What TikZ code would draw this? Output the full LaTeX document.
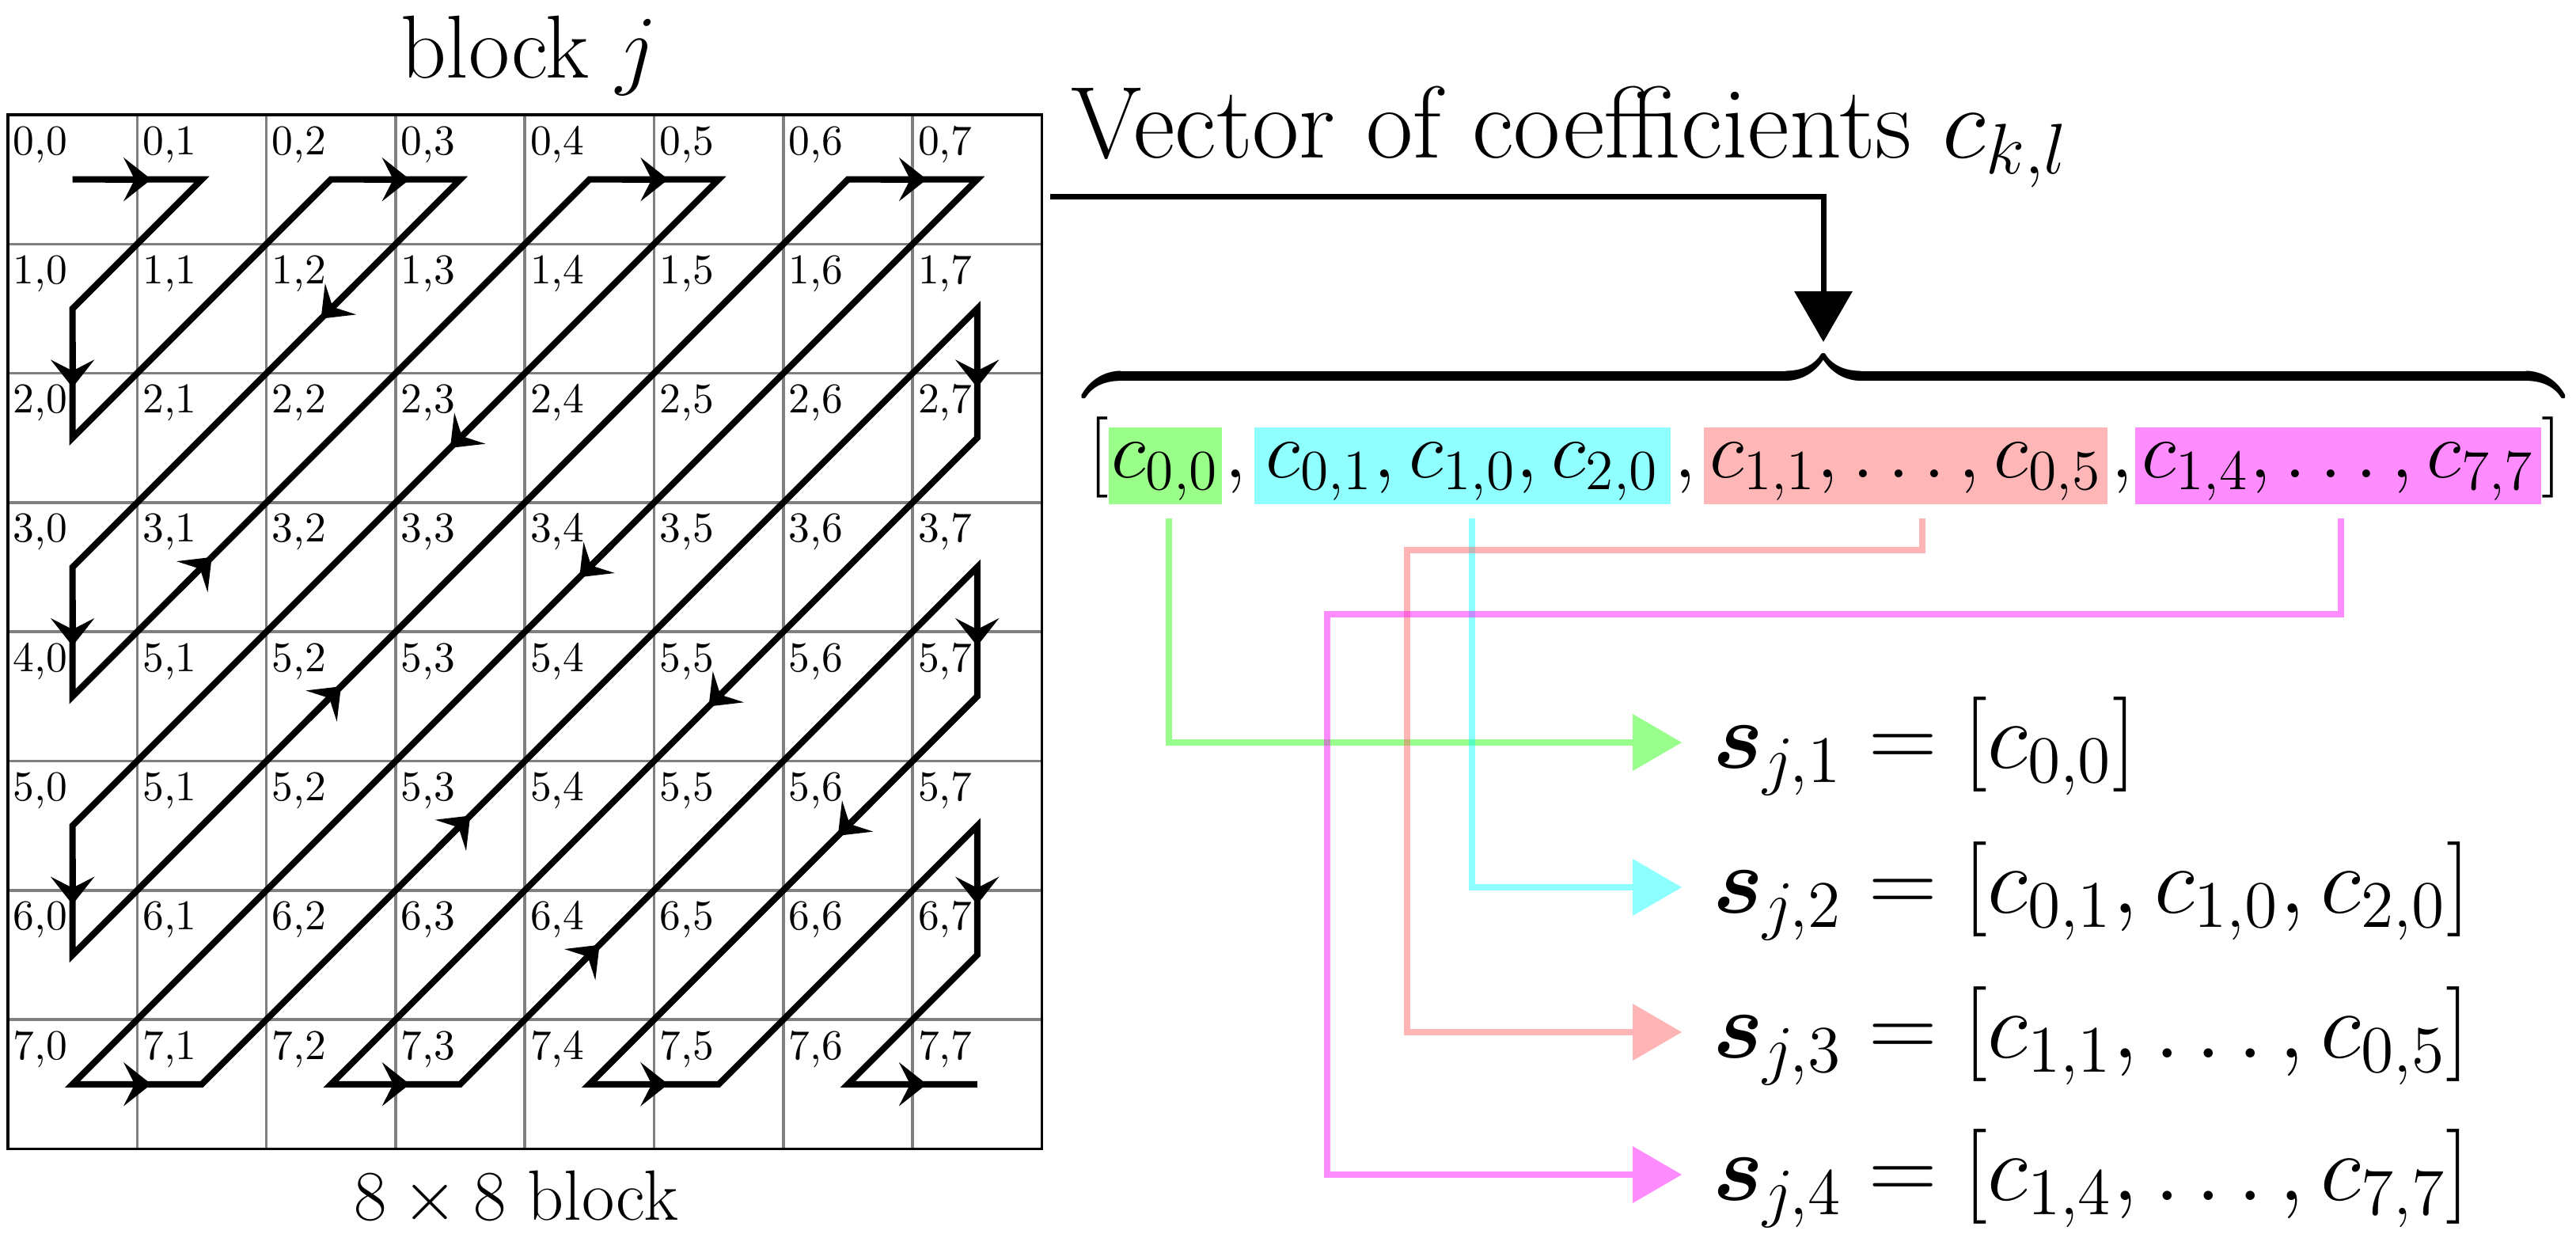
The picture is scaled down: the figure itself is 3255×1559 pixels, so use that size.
\RequirePackage{fix-cm}
\documentclass[tikz,border=0pt]{standalone}
\usepackage{amsmath}
\usetikzlibrary{calc,arrows.meta}
\definecolor{gF}{RGB}{153,255,136}
\definecolor{cF}{RGB}{143,255,255}
\definecolor{sF}{RGB}{255,182,182}
\definecolor{mF}{RGB}{255,140,255}
\definecolor{gL}{RGB}{28,255,0}
\definecolor{cL}{RGB}{6,255,255}
\definecolor{sL}{RGB}{255,93,93}
\definecolor{mL}{RGB}{255,0,255}
\definecolor{gridgray}{RGB}{128,128,128}
\tikzset{
 gridl/.style={draw=gridgray, line width=0.7pt},
 border/.style={draw=black, line width=0.75pt},
 lbl/.style={anchor=base west, inner sep=0pt, font=\fontsize{10.7}{13}\selectfont},
 zz/.style={line width=1.6pt, black},
 zzarrow/.style={line width=1.6pt, black, -{Stealth[length=7pt,width=11pt,inset=2.8pt]}},
 vtext/.style={anchor=base west, inner sep=0pt, font=\fontsize{20.5}{24}\selectfont},
 vbox/.style={vtext, text height=12.6pt, text depth=6.8pt},
 sline/.style={anchor=base west, inner sep=0pt, font=\fontsize{24}{29}\selectfont},
 cline/.style={line width=1.6pt, opacity=0.45, -{Triangle[length=12.4pt,width=14.4pt,line width=0pt]}},
 blkline/.style={line width=1.4pt, black, -{Triangle[length=12.8pt,width=14.4pt]}},
}
\begin{document}
\begin{tikzpicture}[x=0.2pt,y=-0.2pt]
\fill[white] (0,0) rectangle (3255,1559);
\useasboundingbox (0,0) rectangle (3255,1559);

% grid
\foreach \i in {1,...,7}{
  \draw[gridl] ({10+163.3*\i},145) -- ({10+163.3*\i},1451.4);
  \draw[gridl] (10,{145+163.3*\i}) -- (1316.4,{145+163.3*\i});
}
\foreach \r in {0,...,7}{\foreach \c in {0,...,7}{
  \coordinate (p-\r-\c) at ({10+163.3*(\c+0.5)},{145+163.3*(\r+0.5)});
  \node[lbl] (l-\r-\c) at ({16+163.3*\c},{195+163.3*\r}) {\ifnum\r=4 \ifnum\c=0 4\else 5\fi\else\r\fi,\c};
}}
\draw[border] (10,145) rectangle (1316.4,1451.4);

% zigzag
\draw[zz] (p-0-0) -- (p-0-1) -- (p-1-0) -- (p-2-0) -- (p-0-2) -- (p-0-3) -- (p-3-0) -- (p-4-0)
  -- (p-0-4) -- (p-0-5) -- (p-5-0) -- (p-6-0) -- (p-0-6) -- (p-0-7) -- (p-7-0) -- (p-7-1)
  -- (p-1-7) -- (p-2-7) -- (p-7-2) -- (p-7-3) -- (p-3-7) -- (p-4-7) -- (p-7-4) -- (p-7-5)
  -- (p-5-7) -- (p-6-7) -- (p-7-6) -- (p-7-7);
\foreach \r/\c in {0/0,0/2,0/4,0/6,7/0,7/2,7/4,7/6}
  {\draw[zzarrow] ($(p-\r-\c)+(41.6,0)$) -- ($(p-\r-\c)+(99.6,0)$);}
\foreach \r/\c in {1/0,3/0,5/0,1/7,3/7,5/7}
  {\draw[zzarrow] ($(p-\r-\c)+(0,41.6)$) -- ($(p-\r-\c)+(0,99.6)$);}
\foreach \r/\c in {1/2,2/3,3/4,4/5,5/6}
  {\draw[zzarrow] ($(p-\r-\c)+(28,-28)$) -- ($(p-\r-\c)+(-12.7,12.7)$);}
\foreach \r/\c in {3/1,4/2,5/3,6/4}
  {\draw[zzarrow] ($(p-\r-\c)+(-28,28)$) -- ($(p-\r-\c)+(12.7,-12.7)$);}

% block captions
\node[anchor=base west, inner sep=0pt, font=\fontsize{22.6}{27}\selectfont] (blk) at (505,98) {block $j$};
\node[anchor=base west, inner sep=0pt, font=\fontsize{18}{22}\selectfont] (size) at (446,1541) {$8\times 8$ block};

% title and brace
\node[anchor=base west, inner sep=0pt, font=\fontsize{25.8}{31}\selectfont] (title) at (1352,200) {Vector of coefficients $c_{k,l}$};
\node[inner sep=0pt, anchor=north, font=\fontsize{20.5}{24}\selectfont] (br) at (2304,468) {\hbox to 374pt{\downbracefill}};
\coordinate (tstart) at (1327,248);
\coordinate (ttip) at ($(br.north)+(0,-36)$);
\draw[blkline] (tstart) -| (ttip);

% vector row
\node[vtext] (lbr) at (1374,603) {$[$};
\node[vbox, fill=gF, minimum width=28.6pt] (g) at (1400,603) {$c_{0,0}$};
\node[vtext] (k1) at (1546,603) {$,$};
\node[vbox, fill=cF, minimum width=105.2pt] (cy) at (1584,603) {$c_{0,1}, c_{1,0}, c_{2,0}$};
\node[vtext] (k2) at (2114,603) {$,$};
\node[vbox, fill=sF, minimum width=102pt] (sa) at (2152,603) {$c_{1,1}, \ldots, c_{0,5}$};
\node[vtext] (k3) at (2666,603) {$,$};
\node[vbox, fill=mF, minimum width=102.6pt] (ma) at (2697,603) {$c_{1,4}, \ldots, c_{7,7}$};
\node[vtext] (rbr) at (3210,603) {$]$};

% targets
\coordinate (a1) at (2125,938);
\coordinate (a2) at (2125,1121);
\coordinate (a3) at (2125,1304);
\coordinate (a4) at (2125,1484);
\node[sline] (s1) at ($(a1)+(38,32)$) {$\boldsymbol{s}_{j,1} = [c_{0,0}]$};
\node[sline] (s2) at ($(a2)+(38,32)$) {$\boldsymbol{s}_{j,2} = [c_{0,1}, c_{1,0}, c_{2,0}]$};
\node[sline] (s3) at ($(a3)+(38,32)$) {$\boldsymbol{s}_{j,3} = [c_{1,1}, \ldots, c_{0,5}]$};
\node[sline] (s4) at ($(a4)+(38,32)$) {$\boldsymbol{s}_{j,4} = [c_{1,4}, \ldots, c_{7,7}]$};

% connectors
\coordinate (sc1) at (1778,695);
\coordinate (mc1) at (1677,776);
\draw[cline, draw=gL] ($(g.south)+(4,17)$) |- (a1);
\draw[cline, draw=cL] ($(cy.south)+(12,17)$) |- (a2);
\draw[cline, draw=sL] ($(sa.south)+(21,17)$) |- (sc1) |- (a3);
\draw[cline, draw=mL] ($(ma.south)+(3,17)$) |- (mc1) |- (a4);
\end{tikzpicture}
\end{document}
